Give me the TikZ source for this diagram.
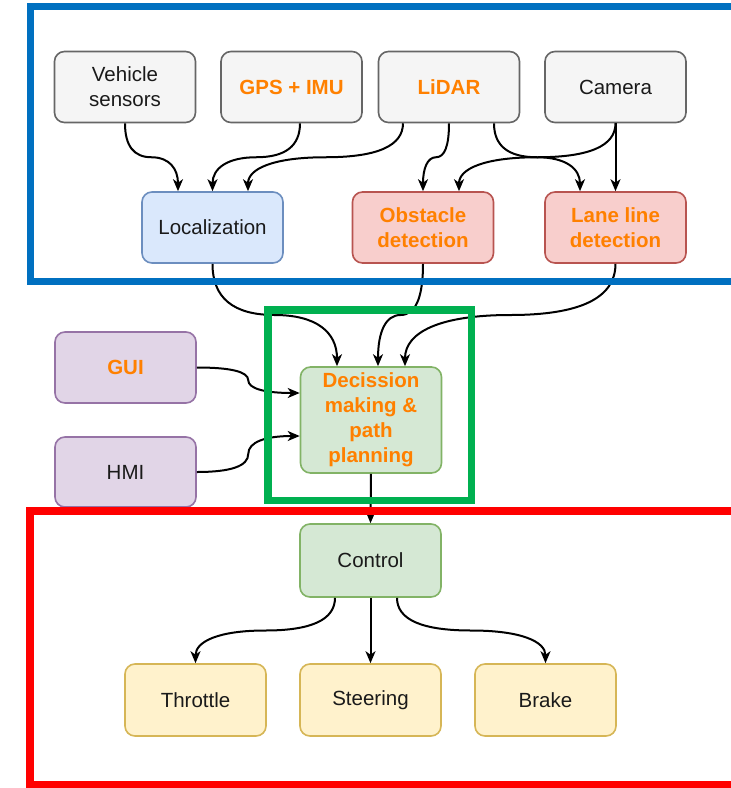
\documentclass[tikz,border=0pt]{standalone}
\usepackage{fontspec}
\setmainfont{Liberation Sans}
\usetikzlibrary{arrows.meta,calc}
\definecolor{grayfill}{HTML}{F5F5F5}
\definecolor{graydraw}{HTML}{666666}
\definecolor{darktext}{HTML}{1A1A1A}
\definecolor{orangetext}{HTML}{FF8000}
\definecolor{bluefill}{HTML}{DAE8FC}
\definecolor{bluedraw}{HTML}{6C8EBF}
\definecolor{redfill}{HTML}{F8CECC}
\definecolor{reddraw}{HTML}{B85450}
\definecolor{purplefill}{HTML}{E1D5E7}
\definecolor{purpledraw}{HTML}{9673A6}
\definecolor{greenfill}{HTML}{D5E8D4}
\definecolor{greendraw}{HTML}{82B366}
\definecolor{yellowfill}{HTML}{FFF2CC}
\definecolor{yellowdraw}{HTML}{D6B656}
\definecolor{frameblue}{HTML}{0070C0}
\definecolor{framegreen}{HTML}{00B050}
\definecolor{framered}{HTML}{FF0000}
\tikzset{
  box/.style={rectangle, rounded corners=10pt, minimum width=141pt, minimum height=71pt,
    line width=1.6pt, align=center, inner sep=0pt, text=darktext,
    font=\fontsize{20.5}{25}\selectfont},
  hot/.style={text=orangetext, font=\fontsize{20.5}{25}\selectfont\bfseries},
  graybox/.style={box, fill=grayfill, draw=graydraw},
  bluebox/.style={box, fill=bluefill, draw=bluedraw},
  redbox/.style={box, fill=redfill, draw=reddraw},
  purplebox/.style={box, fill=purplefill, draw=purpledraw},
  greenbox/.style={box, fill=greenfill, draw=greendraw},
  yellowbox/.style={box, fill=yellowfill, draw=yellowdraw},
  conn/.style={line width=2pt, draw=black, -{Stealth[length=12pt,width=10pt,inset=3.5pt]}},
  frame/.style={line width=7.5pt}
}
\newcommand\curvedraw{%
  \draw[conn] (cA) .. controls ($(cA)!0.6667!(cQ1)$) and ($(cM)!0.6667!(cQ1)$) .. (cM)
     .. controls ($(cM)!0.6667!(cQ2)$) and ($(cB)!0.6667!(cQ2)$) .. (cB);}
\newcommand\vcurve[2]{\path #1 coordinate (cA) #2 coordinate (cB);
  \path ($(cA)!.5!(cA|-cB)$) coordinate (cQ1) ($(cA)!.5!(cB)$) coordinate (cM)
        ($(cB)!.5!(cB|-cA)$) coordinate (cQ2);
  \curvedraw}
\newcommand\hcurve[2]{\path #1 coordinate (cA) #2 coordinate (cB);
  \path ($(cA)!.5!(cB|-cA)$) coordinate (cQ1) ($(cA)!.5!(cB)$) coordinate (cM)
        ($(cB)!.5!(cA|-cB)$) coordinate (cQ2);
  \curvedraw}
\begin{document}
\begin{tikzpicture}[x=1pt,y=-1pt]
\useasboundingbox (0,0) rectangle (731,788);
\begin{scope}
\clip (0,0) rectangle (731,788);
\fill[white] (0,0) rectangle (731,788);
% nodes
\node[graybox] (vs) at (125,87) {Vehicle\\sensors};
\node[graybox, hot] (gps) at (291.5,87) {GPS + IMU};
\node[graybox, hot] (lidar) at (449,87) {LiDAR};
\node[graybox] (cam) at (615.5,87) {Camera};
\node[bluebox] (loc) at (212.5,227.5) {Localization};
\node[redbox, hot] (obs) at (423,227.5) {Obstacle\\detection};
\node[redbox, hot] (lane) at (615.5,227.5) {Lane line\\detection};
\node[purplebox, hot] (gui) at (125.5,367.5) {GUI};
\node[purplebox, minimum height=70pt] (hmi) at (125.5,472) {HMI};
\node[greenbox, hot, minimum height=106pt] (dec) at (371,420) {Decission\\making \&\\path\\planning};
\node[greenbox, minimum height=73pt] (ctrl) at (370.5,560.5) {Control};
\node[yellowbox, minimum height=72pt] (thr) at (195.5,700) {Throttle};
\node[yellowbox, minimum height=72pt] (ste) at (370.5,700) {Steering};
\node[yellowbox, minimum height=72pt] (brk) at (545.5,700) {Brake};
% connectors
\vcurve{(vs.south)}{([xshift=-34.5pt]loc.north)}
\vcurve{([xshift=8.5pt]gps.south)}{(loc.north)}
\vcurve{([xshift=-46pt]lidar.south)}{([xshift=35.5pt]loc.north)}
\vcurve{(lidar.south)}{(obs.north)}
\vcurve{([xshift=45pt]lidar.south)}{([xshift=-35.5pt]lane.north)}
\vcurve{(cam.south)}{([xshift=36pt]obs.north)}
\draw[conn] (cam.south) -- (lane.north);
\vcurve{(loc.south)}{([xshift=-34pt]dec.north)}
\vcurve{(obs.south)}{([xshift=7pt]dec.north)}
\vcurve{(lane.south)}{([xshift=34pt]dec.north)}
\hcurve{(gui.east)}{([yshift=27pt]dec.west)}
\hcurve{(hmi.east)}{([yshift=-16pt]dec.west)}
\draw[conn] (dec.south) -- (ctrl.north);
\vcurve{([xshift=-35.5pt]ctrl.south)}{(thr.north)}
\draw[conn] (ctrl.south) -- (ste.north);
\vcurve{([xshift=26.5pt]ctrl.south)}{(brk.north)}
% frames
\draw[frame, frameblue] (30.5,6.5) rectangle (760,281.5);
\draw[frame, framegreen] (268,310) rectangle (471.5,500.5);
\draw[frame, framered] (30,511) rectangle (760,785);
\end{scope}
\end{tikzpicture}
\end{document}
